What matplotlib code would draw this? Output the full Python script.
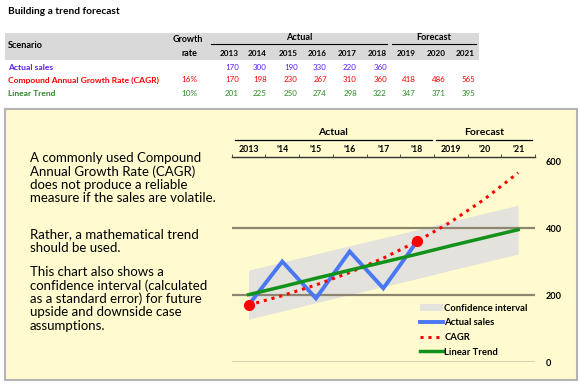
import matplotlib
matplotlib.use("Agg")
import matplotlib.pyplot as plt
from matplotlib.patches import Rectangle
from matplotlib.lines import Line2D
from matplotlib.transforms import blended_transform_factory

plt.rcParams['font.family'] = ['Lato', 'DejaVu Sans']

# ---------------- data ----------------
years = [2013, 2014, 2015, 2016, 2017, 2018, 2019, 2020, 2021]
axis_labels = ['2013', "'14", "'15", "'16", "'17", "'18", '2019', "'20", "'21"]
actual_sales = [170, 300, 190, 330, 220, 360]
cagr = [170, 198, 230, 267, 310, 360, 418, 486, 565]
linear_trend = [201, 225, 250, 274, 298, 322, 347, 371, 395]
ci_lower = [128, 152, 177, 201, 225, 249, 274, 298, 322]
ci_upper = [274, 298, 323, 347, 371, 395, 420, 444, 468]
scenarios = ['Actual sales', 'Compound Annual Growth Rate (CAGR)', 'Linear Trend']
growth_rates = ['', '16%', '10%']
y_ticks = [0, 200, 400, 600]
cagr_dots = [0, 5]

W, H = 584, 384
fig = plt.figure(figsize=(W / 100, H / 100), dpi=100)
fig.patch.set_facecolor('white')

def fx(px):
    return px / W

def fy(py):
    return 1 - py / H

def ftext(x, y, s, **kw):
    fig.text(fx(x), fy(y), s, **kw)

BLUE_T = '#5B1EF5'
RED = '#FF0000'
GREEN_T = '#2A8A22'

# ---------------- table ----------------
ftext(8, 12, 'Building a trend forecast', fontsize=7.3, fontweight='bold', va='center')
fig.patches.append(Rectangle((fx(5), fy(60)), fx(474), 27 / H, transform=fig.transFigure,
                             facecolor='#D9D9D9', edgecolor='none', zorder=-5))
ftext(8, 46, 'Scenario', fontsize=6.6, fontweight='bold', va='center')
ftext(203, 39, 'Growth', fontsize=6.4, fontweight='bold', va='center', ha='right')
ftext(197, 53, 'rate', fontsize=6.4, fontweight='bold', va='center', ha='right')
col_right = [239, 267, 298, 327, 357, 387, 416, 446, 475]
for x, yr in zip(col_right, years):
    ftext(x, 53, str(yr), fontsize=5.9, fontweight='bold', va='center', ha='right')
ftext(299, 38, 'Actual', fontsize=6.6, fontweight='bold', va='center', ha='center')
ftext(434, 38, 'Forecast', fontsize=6.6, fontweight='bold', va='center', ha='center')
fig.add_artist(Line2D([fx(211), fx(387)], [fy(44), fy(44)], color='black', lw=0.8))
fig.add_artist(Line2D([fx(392), fx(476)], [fy(44), fy(44)], color='black', lw=0.8))

row_y = [67, 80, 93]
row_colors = [BLUE_T, RED, GREEN_T]
row_vals = [actual_sales, cagr, linear_trend]
for ry, name, col, gr, vals in zip(row_y, scenarios, row_colors, growth_rates, row_vals):
    ftext(8, ry, name, fontsize=6.1, fontweight='bold', color=col, va='center')
    if gr:
        ftext(197, ry, gr, fontsize=5.9, color=col, va='center', ha='right')
    for x, v in zip(col_right, vals):
        ftext(x, ry, str(v), fontsize=5.7, color=col, va='center', ha='right')

# ---------------- yellow panel ----------------
fig.patches.append(Rectangle((fx(5), fy(380)), fx(572), 271 / H, transform=fig.transFigure,
                             facecolor='#FFFBCF', edgecolor='#B4B4B4', lw=1.5, zorder=-5))

note_lines = [
    (158, 'A commonly used Compound'),
    (171.5, 'Annual Growth Rate (CAGR)'),
    (185, 'does not produce a reliable'),
    (198.5, 'measure if the sales are volatile.'),
    (234, 'Rather, a mathematical trend'),
    (247.5, 'should be used.'),
    (272, 'This chart also shows a'),
    (285.5, 'confidence interval (calculated'),
    (299, 'as a standard error) for future'),
    (312.5, 'upside and downside case'),
    (326, 'assumptions.'),
]
for y, s in note_lines:
    ftext(30, y, s, fontsize=9.5, va='center', color='black')

# ---------------- chart ----------------
ax_left, ax_right = 231.7, 535
ax_top, ax_bot = 157, 362
ax = fig.add_axes([fx(ax_left), fy(ax_bot), (ax_right - ax_left) / W, (ax_bot - ax_top) / H])
ax.set_facecolor('none')
ax.set_xlim(-0.5, 8.5)
ax.set_ylim(0, 612)
x_all = list(range(len(years)))

ax.fill_between(x_all, ci_lower, ci_upper, color='#E4E2DC', lw=0, zorder=1, label='Confidence interval')
for v in [200, 400]:
    ax.axhline(v, color='#8C8670', lw=1.6, zorder=2)
ax.axhline(0, color='#333333', lw=1.0, zorder=2)
ax.plot(x_all[:len(actual_sales)], actual_sales, color='#4A78F5', lw=2.8, zorder=3,
        solid_joinstyle='miter', label='Actual sales')
ax.plot(x_all, cagr, color=RED, lw=2.2, ls=(0, (1, 1.6)), zorder=4, label='CAGR')
ax.plot([x_all[i] for i in cagr_dots], [cagr[i] for i in cagr_dots], 'o', color=RED,
        ms=7, zorder=5)
ax.plot(x_all, linear_trend, color='#12921A', lw=2.5, zorder=4, label='Linear Trend')

for s in ['left', 'right', 'bottom']:
    ax.spines[s].set_visible(False)
ax.spines['top'].set_color('#333333')
ax.spines['top'].set_linewidth(1.0)

ax.xaxis.tick_top()
ax.set_xticks(x_all)
ax.set_xticklabels(axis_labels, fontsize=6.3, fontweight='bold')
ax.set_xticks([i - 0.5 for i in range(len(years) + 1)], minor=True)
ax.tick_params(axis='x', which='major', length=0, pad=2.5)
ax.tick_params(axis='x', which='minor', length=2.5, direction='out', color='#333333', top=True, bottom=False)

ax.yaxis.tick_right()
ax.set_yticks(y_ticks)
ax.set_yticklabels([str(v) for v in y_ticks], fontsize=6.6, fontweight='bold')
ax.tick_params(axis='y', length=0, pad=8)

tr = blended_transform_factory(ax.transData, ax.transAxes)
top_frac = (ax_bot - 140) / (ax_bot - ax_top)
txt_frac = (ax_bot - 132.5) / (ax_bot - ax_top)
ax.add_line(Line2D([-0.4, 5.45], [top_frac, top_frac], transform=tr, color='black', lw=0.9, clip_on=False))
ax.add_line(Line2D([5.55, 8.4], [top_frac, top_frac], transform=tr, color='black', lw=0.9, clip_on=False))
ax.text(2.5, txt_frac, 'Actual', transform=tr, ha='center', va='center', fontsize=7.5, fontweight='bold')
ax.text(7.0, txt_frac, 'Forecast', transform=tr, ha='center', va='center', fontsize=7.5, fontweight='bold')

handles, labels = ax.get_legend_handles_labels()
leg = fig.legend(handles, labels, loc='upper left', bbox_to_anchor=(fx(415), fy(299)),
                 frameon=False, handlelength=2.5, handletextpad=0.1,
                 labelspacing=0.6, borderpad=0, prop={'weight': 'bold', 'size': 6.8})

fig.savefig('out.png', dpi=100)
